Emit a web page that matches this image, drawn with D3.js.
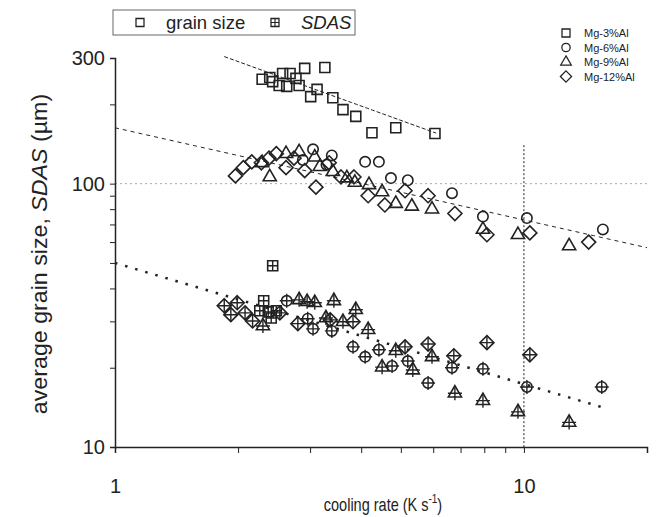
<!DOCTYPE html>
<html>
<head>
<meta charset="utf-8">
<script src="https://cdn.jsdelivr.net/npm/d3@7"></script>
<style>
  body { margin: 0; background: #fff; }
  text { font-family: "Liberation Sans", Arial, sans-serif; fill: #222; }
  .axis path, .axis line { stroke: #222; }
  .axis text { font-size: 20px; }
</style>
</head>
<body>
<script>
// size of the picture
var w = 667;
var h = 517;
var margin = { top: 58, right: 20, bottom: 70, left: 115 };

// alloys and their symbols
var alloys = ["Mg-3%Al", "Mg-6%Al", "Mg-9%Al", "Mg-12%Al"];
var shapes = ["square", "circle", "triangle", "diamond"];

// grain size, [cooling rate, size]
var grain3 = [[2.29, 249], [2.39, 253], [2.43, 244], [2.52, 236], [2.57, 262], [2.63, 234], [2.68, 262],
  [2.77, 251], [2.82, 236], [2.91, 274], [3.01, 214], [3.12, 228], [3.26, 276], [3.41, 212],
  [3.61, 191], [3.88, 180], [4.25, 156], [4.86, 163], [6.06, 155]];
var grain6 = [[2.88, 123], [3.05, 135], [3.29, 118], [3.39, 128], [4.09, 121], [4.42, 121], [4.73, 105],
  [5.2, 103], [6.67, 92], [7.94, 75], [10.17, 74], [15.6, 67]];
var grain9 = [[2.29, 120], [2.39, 106], [2.62, 130], [2.82, 132], [3.08, 126], [3.17, 116], [3.41, 111],
  [3.69, 105], [3.86, 101], [4.18, 99], [4.5, 93], [4.86, 84], [5.32, 82], [5.96, 80], [7.94, 67],
  [9.67, 64], [12.9, 58]];
var grain12 = [[1.97, 107], [2.06, 115], [2.16, 121], [2.28, 120], [2.38, 125], [2.48, 130], [2.62, 115],
  [2.74, 125], [2.91, 112], [3.1, 97], [3.34, 120], [3.57, 106], [3.84, 106], [4.16, 90], [4.57, 83],
  [5.12, 94], [5.83, 90], [6.78, 77], [8.12, 64], [10.34, 65], [14.4, 60]];

// secondary dendrite arm spacing, [cooling rate, SDAS]
var sdas3 = [[2.43, 48.8], [2.31, 35.9], [2.26, 32.9], [2.37, 32.6], [2.48, 32.9], [2.41, 30.9]];
var sdas6 = [[2.63, 35.9], [2.96, 30.7], [3.05, 28.1], [3.39, 27.6], [3.82, 24], [4.09, 22], [4.42, 23.4],
  [4.76, 20.3], [5.2, 21.2], [5.83, 17.5], [6.67, 20], [7.94, 19.8], [10.17, 16.9], [15.5, 16.9]];
var sdas9 = [[2.3, 28.8], [2.82, 36.2], [2.95, 35.6], [3.08, 35.3], [3.28, 30.9], [3.43, 35.9], [3.61, 29.9],
  [3.88, 33.2], [4.16, 27.9], [4.5, 20.1], [4.86, 23.2], [5.35, 19.6], [5.96, 22], [6.78, 16],
  [7.94, 15], [9.67, 13.6], [12.9, 12.4]];
var sdas12 = [[1.85, 34.4], [1.99, 35.3], [1.92, 31.8], [2.08, 32.3], [2.17, 30.1], [2.53, 32.3], [2.8, 29.4],
  [3.36, 30.4], [3.82, 29.9], [5.12, 24], [5.83, 24.6], [6.74, 22.2], [8.12, 24.9], [10.34, 22.4]];

// power law fits y = a * x^b, drawn over [from, to]
var fits = [
  { a: 429, b: -0.561, from: 1.85, to: 6.1, dash: "4,2", width: 1 },
  { a: 163, b: -0.35, from: 1, to: 20, dash: "4,4", width: 1 },
  { a: 50, b: -0.46, from: 1, to: 15.5, dash: "2.5,8", width: 2.5 }
];

var xTickLabels = [1, 10];
var yTickLabels = [10, 100, 300];

var x = d3.scaleLog().domain([1, 20]).range([margin.left, w - margin.right]);
var y = d3.scaleLog().domain([10, 300]).range([h - margin.bottom, margin.top]);

var svg = d3.select("body").append("svg").attr("width", w).attr("height", h);

// reference lines
svg.append("line")
  .attr("x1", x(1)).attr("x2", x(20))
  .attr("y1", y(100)).attr("y2", y(100))
  .attr("stroke", "#aaa").attr("stroke-dasharray", "2,3");
svg.append("line")
  .attr("x1", x(10)).attr("x2", x(10))
  .attr("y1", y(140)).attr("y2", y(10))
  .attr("stroke", "#222").attr("stroke-dasharray", "2,2");

// fit lines
fits.forEach(function (f) {
  var xs = d3.range(0, 41).map(function (i) {
    return Math.pow(10, Math.log10(f.from) + (Math.log10(f.to) - Math.log10(f.from)) * i / 40);
  });
  var line = d3.line()
    .x(function (d) { return x(d); })
    .y(function (d) { return y(f.a * Math.pow(d, f.b)); });
  svg.append("path").datum(xs)
    .attr("d", line)
    .attr("fill", "none")
    .attr("stroke", "#222")
    .attr("stroke-width", f.width)
    .attr("stroke-dasharray", f.dash);
});

// symbol path around 0,0
function symbolPath(shape) {
  if (shape == "square") return d3.symbol(d3.symbolSquare, 100)();
  if (shape == "circle") return d3.symbol(d3.symbolCircle, 85)();
  if (shape == "triangle") return d3.symbol(d3.symbolTriangle, 75)();
  return "M0,-7L7,0L0,7L-7,0Z";
}

function drawMark(g, shape, crossed) {
  g.append("path")
    .attr("d", symbolPath(shape))
    .attr("fill", "none")
    .attr("stroke", "#222")
    .attr("stroke-width", 1.6);
  if (crossed) {
    var r = shape == "square" ? 5 : 7;
    g.append("path")
      .attr("d", "M" + -r + ",0H" + r + "M0," + -r + "V" + r)
      .attr("stroke", "#222")
      .attr("stroke-width", 1.4);
  }
}

function drawSeries(data, shape, crossed) {
  data.forEach(function (d) {
    var g = svg.append("g").attr("transform", "translate(" + x(d[0]) + "," + y(d[1]) + ")");
    drawMark(g, shape, crossed);
  });
}

drawSeries(grain3, "square", false);
drawSeries(grain6, "circle", false);
drawSeries(grain9, "triangle", false);
drawSeries(grain12, "diamond", false);
drawSeries(sdas3, "square", true);
drawSeries(sdas6, "circle", true);
drawSeries(sdas9, "triangle", true);
drawSeries(sdas12, "diamond", true);

// axes
var xAxis = d3.axisBottom(x)
  .tickValues([1, 2, 3, 4, 5, 6, 7, 8, 9, 10, 20])
  .tickSize(6)
  .tickFormat(function (d) { return xTickLabels.indexOf(d) >= 0 ? d : ""; });
var gx = svg.append("g").attr("class", "axis")
  .attr("transform", "translate(0," + (h - margin.bottom) + ")")
  .call(xAxis);
gx.select(".domain").attr("stroke-width", 1.5);
gx.selectAll(".tick text").attr("dy", "1.85em");

var yAxis = d3.axisLeft(y)
  .tickValues([10, 20, 30, 40, 50, 60, 70, 80, 90, 100, 200, 300])
  .tickSize(5)
  .tickFormat(function (d) { return yTickLabels.indexOf(d) >= 0 ? d : ""; });
var gy = svg.append("g").attr("class", "axis")
  .attr("transform", "translate(" + margin.left + ",0)")
  .call(yAxis);
gy.select(".domain").attr("stroke-width", 1.5);
gy.selectAll(".tick text").attr("dx", "-0.1em");

// axis titles
var yt = svg.append("text")
  .attr("transform", "translate(47,254) rotate(-90) scale(1.08,1)")
  .attr("text-anchor", "middle")
  .style("font-size", "21.5px");
yt.append("tspan").text("average grain size, ");
yt.append("tspan").style("font-style", "italic").text("SDAS");
yt.append("tspan").text(" (µm)");

var xt = svg.append("text")
  .attr("transform", "translate(383,511) scale(1,1.3)")
  .attr("text-anchor", "middle")
  .style("font-size", "14.5px");
xt.append("tspan").text("cooling rate (K s");
xt.append("tspan").attr("dy", -6).style("font-size", "10px").text("-1");
xt.append("tspan").attr("dy", 6).text(")");

// top legend
svg.append("rect")
  .attr("x", 113).attr("y", 10).attr("width", 242).attr("height", 25)
  .attr("fill", "none").attr("stroke", "#666");
var lg1 = svg.append("g").attr("transform", "translate(140,22.5) scale(0.8)");
drawMark(lg1, "square", false);
svg.append("text").attr("x", 166).attr("y", 29).style("font-size", "18.5px").text("grain size");
var lg2 = svg.append("g").attr("transform", "translate(275,22.5) scale(0.8)");
drawMark(lg2, "square", true);
svg.append("text").attr("x", 301).attr("y", 29).style("font-size", "18.5px").style("font-style", "italic").text("SDAS");

// alloy legend
alloys.forEach(function (name, i) {
  var yy = 33 + i * 14.5;
  var g = svg.append("g").attr("transform", "translate(566," + yy + ") scale(0.8)");
  drawMark(g, shapes[i], false);
  svg.append("text").attr("x", 584).attr("y", yy + 4).style("font-size", "11px").text(name);
});
</script>
</body>
</html>
